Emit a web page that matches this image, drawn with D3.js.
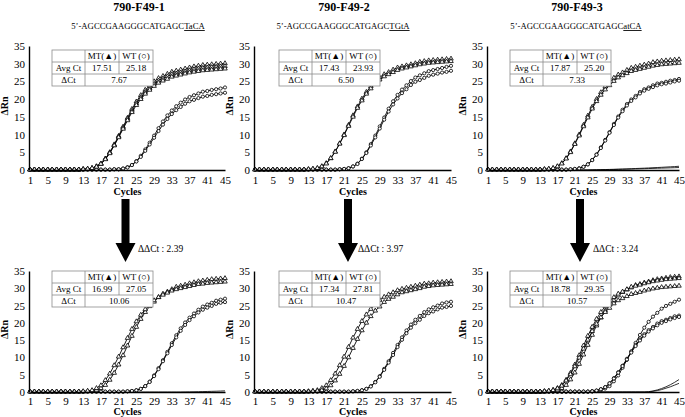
<!DOCTYPE html>
<html>
<head>
<meta charset="utf-8">
<script src="https://cdn.jsdelivr.net/npm/d3@7"></script>
<style>
  body { margin: 0; background: #fff; }
  svg { display: block; font-family: 'Liberation Serif', 'Times New Roman', serif; }
</style>
</head>
<body>
<div id="chart"></div>
<script>
// Cycle numbers and axis ticks
var cycles = d3.range(1, 46)
var xTicks = [1, 5, 9, 13, 17, 21, 25, 29, 33, 37, 41, 45]
var yTicks = [0, 5, 10, 15, 20, 25, 30, 35]

// Panel labels
var panelNames = ['790-F49-1', '790-F49-2', '790-F49-3']
var seqPrefix = '5\u2019-AGCCGAAGGGCATGAGC'
var seqTails = ['TaCA', 'TGtA', 'atCA']

// Table values, top row of panels then bottom row
var tableHeader = ['', 'MT(\u25B2)', 'WT (\u25CB)']
var avgCtMt = ['17.51', '17.43', '17.87', '16.99', '17.34', '18.78']
var avgCtWt = ['25.18', '23.93', '25.20', '27.05', '27.81', '29.35']
var deltaCt = ['7.67', '6.50', '7.33', '10.06', '10.47', '10.57']
var deltaDeltaCt = ['2.39', '3.97', '3.24']

// Amplification curves (delta Rn per cycle 1..45)
var p1MtA = [0.1, 0.1, 0.1, 0.1, 0.1, 0.1, 0.1, 0.1, 0.1, 0.1,
  0.1, 0.1, 0.2, 0.3, 0.5, 1.0, 1.8, 3.2, 5.0, 7.2,
  9.6, 12.2, 14.7, 17.2, 19.3, 21.1, 22.6, 23.8, 25.0, 25.9,
  26.5, 27.1, 27.7, 28.0, 28.3, 28.6, 28.9, 29.2, 29.4, 29.6,
  29.7, 29.8, 29.9, 30.0, 30.1]
var p1MtB = [0.1, 0.1, 0.1, 0.1, 0.1, 0.1, 0.1, 0.1, 0.1, 0.1,
  0.1, 0.1, 0.2, 0.3, 0.5, 1.0, 1.7, 3.1, 4.9, 7.0,
  9.4, 11.9, 14.4, 16.7, 18.8, 20.5, 22.0, 23.1, 24.3, 25.2,
  25.8, 26.4, 27.0, 27.2, 27.5, 27.8, 28.1, 28.4, 28.6, 28.8,
  28.9, 29.0, 29.1, 29.2, 29.3]
var p1MtC = [0.1, 0.1, 0.1, 0.1, 0.1, 0.1, 0.1, 0.1, 0.1, 0.1,
  0.1, 0.1, 0.2, 0.3, 0.5, 0.9, 1.7, 3.0, 4.7, 6.9,
  9.2, 11.6, 14.0, 16.3, 18.3, 20.0, 21.5, 22.6, 23.7, 24.6,
  25.2, 25.7, 26.3, 26.6, 26.9, 27.2, 27.5, 27.7, 27.9, 28.1,
  28.2, 28.3, 28.4, 28.5, 28.6]
var p1WtA = [0.1, 0.1, 0.1, 0.1, 0.1, 0.1, 0.1, 0.1, 0.1, 0.1,
  0.1, 0.1, 0.1, 0.1, 0.1, 0.1, 0.1, 0.1, 0.1, 0.2,
  0.2, 0.4, 0.8, 1.4, 2.5, 4.0, 5.8, 7.7, 9.7, 11.8,
  13.7, 15.4, 16.8, 18.0, 19.0, 19.9, 20.6, 21.1, 21.6, 22.1,
  22.3, 22.6, 22.8, 23.0, 23.3]
var p1WtB = [0.1, 0.1, 0.1, 0.1, 0.1, 0.1, 0.1, 0.1, 0.1, 0.1,
  0.1, 0.1, 0.1, 0.1, 0.1, 0.1, 0.1, 0.1, 0.1, 0.2,
  0.2, 0.4, 0.7, 1.4, 2.4, 3.7, 5.4, 7.2, 9.1, 11.0,
  12.8, 14.4, 15.8, 16.9, 17.8, 18.7, 19.4, 19.8, 20.3, 20.7,
  20.9, 21.2, 21.4, 21.6, 21.8]

var p2MtA = [0.1, 0.1, 0.1, 0.1, 0.1, 0.1, 0.1, 0.1, 0.1, 0.1,
  0.1, 0.1, 0.2, 0.3, 0.5, 1.0, 1.9, 3.3, 5.2, 7.5,
  10.0, 12.7, 15.4, 17.9, 20.1, 22.0, 23.6, 24.8, 26.1, 27.0,
  27.6, 28.3, 28.9, 29.2, 29.5, 29.8, 30.1, 30.5, 30.7, 30.9,
  31.0, 31.1, 31.2, 31.3, 31.4]
var p2MtB = [0.1, 0.1, 0.1, 0.1, 0.1, 0.1, 0.1, 0.1, 0.1, 0.1,
  0.1, 0.1, 0.2, 0.3, 0.5, 1.0, 1.8, 3.3, 5.1, 7.4,
  9.8, 12.4, 15.0, 17.5, 19.6, 21.5, 23.0, 24.3, 25.5, 26.4,
  27.0, 27.6, 28.2, 28.6, 28.9, 29.2, 29.5, 29.8, 30.0, 30.2,
  30.3, 30.4, 30.5, 30.6, 30.7]
var p2WtA = [0.1, 0.1, 0.1, 0.1, 0.1, 0.1, 0.1, 0.1, 0.1, 0.1,
  0.1, 0.1, 0.1, 0.1, 0.1, 0.1, 0.1, 0.1, 0.1, 0.2,
  0.3, 0.5, 1.0, 1.8, 3.2, 5.0, 7.3, 9.7, 12.3, 14.8,
  17.3, 19.4, 21.2, 22.7, 23.9, 25.1, 26.1, 26.7, 27.3, 27.9,
  28.2, 28.5, 28.8, 29.1, 29.4]
var p2WtB = [0.1, 0.1, 0.1, 0.1, 0.1, 0.1, 0.1, 0.1, 0.1, 0.1,
  0.1, 0.1, 0.1, 0.1, 0.1, 0.1, 0.1, 0.1, 0.1, 0.2,
  0.3, 0.5, 1.0, 1.7, 3.1, 4.8, 6.9, 9.2, 11.7, 14.2,
  16.5, 18.5, 20.2, 21.7, 22.8, 24.0, 24.9, 25.4, 26.0, 26.6,
  26.9, 27.2, 27.5, 27.7, 28.0]

var p3MtA = [0.1, 0.1, 0.1, 0.1, 0.1, 0.1, 0.1, 0.1, 0.1, 0.1,
  0.1, 0.1, 0.1, 0.2, 0.3, 0.5, 1.0, 1.9, 3.3, 5.2,
  7.5, 10.0, 12.7, 15.3, 17.8, 20.0, 21.9, 23.5, 24.7, 26.0,
  26.9, 27.5, 28.2, 28.8, 29.1, 29.4, 29.7, 30.0, 30.4, 30.6,
  30.8, 30.9, 31.0, 31.1, 31.2]
var p3MtB = [0.1, 0.1, 0.1, 0.1, 0.1, 0.1, 0.1, 0.1, 0.1, 0.1,
  0.1, 0.1, 0.1, 0.2, 0.3, 0.5, 1.0, 1.8, 3.2, 5.0,
  7.3, 9.7, 12.3, 14.8, 17.3, 19.4, 21.2, 22.7, 23.9, 25.1,
  26.1, 26.7, 27.3, 27.9, 28.2, 28.5, 28.8, 29.1, 29.4, 29.6,
  29.8, 29.9, 30.0, 30.1, 30.2]
var p3WtA = [0.1, 0.1, 0.1, 0.1, 0.1, 0.1, 0.1, 0.1, 0.1, 0.1,
  0.1, 0.1, 0.1, 0.1, 0.1, 0.1, 0.1, 0.1, 0.1, 0.2,
  0.3, 0.5, 0.9, 1.6, 2.8, 4.4, 6.4, 8.5, 10.7, 13.0,
  15.1, 17.0, 18.6, 19.9, 20.9, 22.0, 22.8, 23.3, 23.9, 24.4,
  24.6, 24.9, 25.2, 25.4, 25.7]
var p3WtB = [0.1, 0.1, 0.1, 0.1, 0.1, 0.1, 0.1, 0.1, 0.1, 0.1,
  0.1, 0.1, 0.1, 0.1, 0.1, 0.1, 0.1, 0.1, 0.1, 0.2,
  0.3, 0.4, 0.9, 1.6, 2.8, 4.3, 6.2, 8.3, 10.5, 12.7,
  14.8, 16.6, 18.2, 19.5, 20.5, 21.6, 22.4, 22.9, 23.4, 23.9,
  24.2, 24.4, 24.7, 25.0, 25.2]
var p3NtcA = [0, 0, 0, 0, 0, 0, 0, 0, 0, 0,
  0, 0, 0, 0, 0, 0, 0, 0, 0, 0,
  0, 0, 0, 0, 0.05, 0.07, 0.1, 0.13, 0.16, 0.2,
  0.24, 0.28, 0.32, 0.37, 0.42, 0.47, 0.52, 0.58, 0.64, 0.7,
  0.76, 0.83, 0.9, 0.97, 1.05]
var p3NtcB = [0, 0, 0, 0, 0, 0, 0, 0, 0, 0,
  0, 0, 0, 0, 0, 0, 0, 0, 0, 0,
  0, 0, 0, 0, 0.03, 0.05, 0.07, 0.09, 0.11, 0.14,
  0.17, 0.2, 0.23, 0.26, 0.3, 0.33, 0.37, 0.41, 0.45, 0.49,
  0.53, 0.57, 0.61, 0.65, 0.7]

var p4MtA = [0.1, 0.1, 0.1, 0.1, 0.1, 0.1, 0.1, 0.1, 0.1, 0.1,
  0.1, 0.1, 0.1, 0.2, 0.3, 0.6, 1.1, 2.0, 3.5, 5.5,
  7.9, 10.6, 13.4, 16.2, 18.8, 21.1, 23.1, 24.8, 26.1, 27.4,
  28.4, 29.0, 29.7, 30.4, 30.7, 31.0, 31.4, 31.7, 32.0, 32.2,
  32.4, 32.6, 32.7, 32.8, 32.9]
var p4MtB = [0.1, 0.1, 0.1, 0.1, 0.1, 0.1, 0.1, 0.1, 0.1, 0.1,
  0.1, 0.1, 0.2, 0.3, 0.5, 1.1, 1.9, 3.4, 5.3, 7.7,
  10.2, 12.9, 15.6, 18.2, 20.4, 22.3, 23.9, 25.2, 26.5, 27.4,
  28.1, 28.7, 29.3, 29.7, 30.0, 30.3, 30.6, 30.9, 31.2, 31.3,
  31.5, 31.6, 31.7, 31.8, 31.9]
var p4WtA = [0.1, 0.1, 0.1, 0.1, 0.1, 0.1, 0.1, 0.1, 0.1, 0.1,
  0.1, 0.1, 0.1, 0.1, 0.1, 0.1, 0.1, 0.1, 0.1, 0.1,
  0.1, 0.1, 0.2, 0.3, 0.5, 0.9, 1.7, 3.0, 4.8, 6.9,
  9.2, 11.6, 14.1, 16.4, 18.4, 20.1, 21.5, 22.7, 23.8, 24.7,
  25.3, 25.8, 26.4, 26.7, 27.0]
var p4WtB = [0.1, 0.1, 0.1, 0.1, 0.1, 0.1, 0.1, 0.1, 0.1, 0.1,
  0.1, 0.1, 0.1, 0.1, 0.1, 0.1, 0.1, 0.1, 0.1, 0.1,
  0.1, 0.1, 0.2, 0.3, 0.5, 0.9, 1.7, 2.9, 4.6, 6.6,
  8.9, 11.2, 13.6, 15.8, 17.7, 19.4, 20.8, 21.9, 23.0, 23.8,
  24.4, 24.9, 25.5, 25.8, 26.0]
var p4Ntc = [0, 0, 0, 0, 0, 0, 0, 0, 0, 0,
  0, 0, 0, 0, 0, 0, 0, 0, 0, 0,
  0, 0, 0, 0, 0, 0, 0, 0, 0, 0,
  0, 0, 0, 0, 0, 0.02, 0.04, 0.06, 0.09, 0.12,
  0.15, 0.19, 0.23, 0.28, 0.33]

var p5MtA = [0.1, 0.1, 0.1, 0.1, 0.1, 0.1, 0.1, 0.1, 0.1, 0.1,
  0.1, 0.1, 0.2, 0.3, 0.5, 1.1, 1.9, 3.4, 5.3, 7.7,
  10.2, 13.0, 15.7, 18.2, 20.5, 22.4, 24.0, 25.3, 26.6, 27.5,
  28.2, 28.8, 29.4, 29.8, 30.1, 30.4, 30.7, 31.0, 31.3, 31.4,
  31.6, 31.7, 31.8, 31.9, 32.0]
var p5MtB = [0.1, 0.1, 0.1, 0.1, 0.1, 0.1, 0.1, 0.1, 0.1, 0.1,
  0.1, 0.1, 0.1, 0.2, 0.3, 0.5, 1.0, 1.9, 3.3, 5.2,
  7.5, 10.0, 12.7, 15.3, 17.8, 20.0, 21.9, 23.5, 24.7, 26.0,
  26.9, 27.5, 28.2, 28.8, 29.1, 29.4, 29.7, 30.0, 30.4, 30.6,
  30.8, 30.9, 31.0, 31.1, 31.2]
var p5WtA = [0.1, 0.1, 0.1, 0.1, 0.1, 0.1, 0.1, 0.1, 0.1, 0.1,
  0.1, 0.1, 0.1, 0.1, 0.1, 0.1, 0.1, 0.1, 0.1, 0.1,
  0.1, 0.1, 0.2, 0.3, 0.5, 0.9, 1.7, 2.9, 4.6, 6.7,
  8.9, 11.3, 13.6, 15.8, 17.8, 19.5, 20.9, 22.0, 23.1, 23.9,
  24.5, 25.0, 25.6, 25.9, 26.1]
var p5WtB = [0.1, 0.1, 0.1, 0.1, 0.1, 0.1, 0.1, 0.1, 0.1, 0.1,
  0.1, 0.1, 0.1, 0.1, 0.1, 0.1, 0.1, 0.1, 0.1, 0.1,
  0.1, 0.1, 0.2, 0.3, 0.5, 0.9, 1.6, 2.8, 4.4, 6.4,
  8.5, 10.7, 13.0, 15.1, 17.0, 18.6, 19.9, 20.9, 22.0, 22.8,
  23.3, 23.9, 24.4, 24.6, 24.9]

var p6MtA = [0.1, 0.1, 0.1, 0.1, 0.1, 0.1, 0.1, 0.1, 0.1, 0.1,
  0.1, 0.1, 0.1, 0.1, 0.2, 0.3, 0.6, 1.1, 2.0, 3.6,
  5.6, 8.1, 10.8, 13.6, 16.5, 19.2, 21.5, 23.5, 25.2, 26.5,
  27.9, 28.9, 29.6, 30.2, 30.9, 31.2, 31.6, 31.9, 32.3, 32.6,
  32.8, 33.0, 33.2, 33.3, 33.4]
var p6MtB = [0.1, 0.1, 0.1, 0.1, 0.1, 0.1, 0.1, 0.1, 0.1, 0.1,
  0.1, 0.1, 0.1, 0.2, 0.3, 0.6, 1.1, 2.0, 3.5, 5.5,
  7.9, 10.6, 13.4, 16.2, 18.8, 21.1, 23.1, 24.8, 26.1, 27.4,
  28.4, 29.0, 29.7, 30.4, 30.7, 31.0, 31.4, 31.7, 32.0, 32.2,
  32.4, 32.6, 32.7, 32.8, 32.9]
var p6MtC = [0.1, 0.1, 0.1, 0.1, 0.1, 0.1, 0.1, 0.1, 0.1, 0.1,
  0.1, 0.1, 0.1, 0.2, 0.3, 0.5, 1.0, 1.8, 3.3, 5.1,
  7.4, 9.9, 12.5, 15.1, 17.6, 19.7, 21.6, 23.1, 24.3, 25.6,
  26.5, 27.1, 27.7, 28.3, 28.6, 28.9, 29.3, 29.6, 29.9, 30.1,
  30.3, 30.4, 30.5, 30.6, 30.7]
var p6WtA = [0.1, 0.1, 0.1, 0.1, 0.1, 0.1, 0.1, 0.1, 0.1, 0.1,
  0.1, 0.1, 0.1, 0.1, 0.1, 0.1, 0.1, 0.1, 0.1, 0.1,
  0.1, 0.1, 0.1, 0.1, 0.2, 0.3, 0.5, 1.0, 1.7, 3.1,
  4.8, 7.0, 9.3, 11.7, 14.2, 16.5, 18.6, 20.3, 21.8, 22.9,
  24.1, 24.9, 25.5, 26.1, 26.7]
var p6WtB = [0.1, 0.1, 0.1, 0.1, 0.1, 0.1, 0.1, 0.1, 0.1, 0.1,
  0.1, 0.1, 0.1, 0.1, 0.1, 0.1, 0.1, 0.1, 0.1, 0.1,
  0.1, 0.1, 0.1, 0.1, 0.2, 0.4, 0.8, 1.4, 2.5, 4.0,
  5.7, 7.6, 9.6, 11.7, 13.6, 15.2, 16.7, 17.9, 18.8, 19.8,
  20.5, 20.9, 21.4, 21.9, 22.1]
var p6WtC = [0.1, 0.1, 0.1, 0.1, 0.1, 0.1, 0.1, 0.1, 0.1, 0.1,
  0.1, 0.1, 0.1, 0.1, 0.1, 0.1, 0.1, 0.1, 0.1, 0.1,
  0.1, 0.1, 0.1, 0.1, 0.2, 0.4, 0.8, 1.4, 2.5, 3.9,
  5.6, 7.5, 9.4, 11.4, 13.3, 14.9, 16.3, 17.5, 18.4, 19.3,
  20.0, 20.5, 21.0, 21.4, 21.7]
var p6NtcA = [0, 0, 0, 0, 0, 0, 0, 0, 0, 0,
  0, 0, 0, 0, 0, 0, 0, 0, 0, 0,
  0, 0, 0, 0, 0, 0, 0, 0, 0, 0,
  0, 0, 0, 0, 0, 0, 0, 0.1, 0.3, 0.6,
  1.0, 1.5, 2.1, 2.8, 3.6]
var p6NtcB = [0, 0, 0, 0, 0, 0, 0, 0, 0, 0,
  0, 0, 0, 0, 0, 0, 0, 0, 0, 0,
  0, 0, 0, 0, 0, 0, 0, 0, 0, 0,
  0, 0, 0, 0, 0, 0, 0, 0, 0.2, 0.4,
  0.7, 1.1, 1.5, 2.0, 2.5]

// Series grouped per panel (reading order)
var mtSeries = [[p1MtA, p1MtB, p1MtC], [p2MtA, p2MtB], [p3MtA, p3MtB],
  [p4MtA, p4MtB], [p5MtA, p5MtB], [p6MtA, p6MtB, p6MtC]]
var wtSeries = [[p1WtA, p1WtB], [p2WtA, p2WtB], [p3WtA, p3WtB],
  [p4WtA, p4WtB], [p5WtA, p5WtB], [p6WtA, p6WtB, p6WtC]]
var ntcSeries = [[], [], [p3NtcA, p3NtcB], [p4Ntc], [], [p6NtcA, p6NtcB]]

// Layout (pixels)
var width = 685
var height = 417
var colX = [[30, 225], [255, 451], [488, 679]]
var rowY = [[170, 46], [392, 271]]
var cyclesOffset = [25, 22.5]
var tickPad = [6, 5]
var tableX = [52, 279, 510]
var tableTop = [50, 271]
var tableCols = [33, 34, 34]
var tableRow = 12
var titleX = [139, 344, 577]
var arrowX = [125.5, 348, 580]
var ddctX = [138, 358, 593]

var svg = d3.select('#chart').append('svg')
  .attr('width', width)
  .attr('height', height)

svg.append('rect')
  .attr('width', width)
  .attr('height', height)
  .attr('fill', '#fff')

/**
 * Draws one amplification plot with its axes and Ct table.
 */
function drawPanel (i) {
  var col = i % 3
  var row = Math.floor(i / 3)

  var x = d3.scaleLinear().domain([1, 45]).range(colX[col])
  var y = d3.scaleLinear().domain([0, 35]).range(rowY[row])

  var g = svg.append('g')

  var line = d3.line()
    .x(function (d, k) { return x(cycles[k]) })
    .y(function (d) { return y(d) })

  // NTC lines have no markers
  ntcSeries[i].forEach(function (s) {
    g.append('path')
      .datum(s)
      .attr('d', line)
      .attr('fill', 'none')
      .attr('stroke', '#000')
      .attr('stroke-width', 0.8)
  })

  var tri = d3.symbol().type(d3.symbolTriangle).size(9)

  wtSeries[i].forEach(function (s) {
    g.append('path')
      .datum(s)
      .attr('d', line)
      .attr('fill', 'none')
      .attr('stroke', '#000')
      .attr('stroke-width', 0.9)
    g.selectAll(null)
      .data(s)
      .enter().append('circle')
      .attr('cx', function (d, k) { return x(cycles[k]) })
      .attr('cy', function (d) { return y(d) })
      .attr('r', 1.6)
      .attr('fill', '#fff')
      .attr('stroke', '#000')
      .attr('stroke-width', 0.8)
  })

  mtSeries[i].forEach(function (s) {
    g.append('path')
      .datum(s)
      .attr('d', line)
      .attr('fill', 'none')
      .attr('stroke', '#000')
      .attr('stroke-width', 0.9)
    g.selectAll(null)
      .data(s)
      .enter().append('path')
      .attr('d', tri)
      .attr('transform', function (d, k) { return 'translate(' + x(cycles[k]) + ',' + y(d) + ')' })
      .attr('fill', '#fff')
      .attr('stroke', '#000')
      .attr('stroke-width', 0.8)
  })

  // Axes
  var axisX = colX[col][0] - 1
  var yAxis = g.append('g')
    .attr('transform', 'translate(' + axisX + ',0)')
    .call(d3.axisLeft(y).tickValues(yTicks).tickSize(0).tickPadding(4))
  var xAxis = g.append('g')
    .attr('transform', 'translate(0,' + y(0) + ')')
    .call(d3.axisBottom(x).tickValues(xTicks).tickSize(0).tickPadding(tickPad[row]))

  ;[yAxis, xAxis].forEach(function (a) {
    a.select('.domain').attr('stroke', '#000').attr('stroke-width', 1.4)
    a.selectAll('text')
      .attr('font-family', "'Liberation Serif', serif")
      .attr('font-size', 11)
      .attr('fill', '#000')
  })

  g.append('text')
    .attr('x', (colX[col][0] + colX[col][1]) / 2)
    .attr('y', y(0) + cyclesOffset[row])
    .attr('text-anchor', 'middle')
    .attr('font-size', 10)
    .attr('font-weight', 'bold')
    .text('Cycles')

  g.append('text')
    .attr('transform', 'translate(' + (axisX - 21) + ',' + ((rowY[row][0] + rowY[row][1]) / 2 - 2) + ') rotate(-90)')
    .attr('text-anchor', 'middle')
    .attr('font-size', 10)
    .attr('font-weight', 'bold')
    .text('\u0394Rn')

  // Ct table
  var t = g.append('g')
    .attr('transform', 'translate(' + tableX[col] + ',' + tableTop[row] + ')')
  var cx = [0, tableCols[0], tableCols[0] + tableCols[1]]
  var tw = tableCols[0] + tableCols[1] + tableCols[2]
  var rows = [tableHeader, ['Avg Ct', avgCtMt[i], avgCtWt[i]]]

  t.append('rect')
    .attr('width', tw)
    .attr('height', tableRow * 3)
    .attr('fill', '#fff')
    .attr('stroke', '#8c8c8c')
    .attr('stroke-width', 0.8)
  ;[1, 2].forEach(function (r) {
    t.append('line')
      .attr('x1', 0).attr('x2', tw)
      .attr('y1', r * tableRow).attr('y2', r * tableRow)
      .attr('stroke', '#8c8c8c').attr('stroke-width', 0.8)
  })
  t.append('line')
    .attr('x1', cx[1]).attr('x2', cx[1])
    .attr('y1', 0).attr('y2', tableRow * 3)
    .attr('stroke', '#8c8c8c').attr('stroke-width', 0.8)
  t.append('line')
    .attr('x1', cx[2]).attr('x2', cx[2])
    .attr('y1', 0).attr('y2', tableRow * 2)
    .attr('stroke', '#8c8c8c').attr('stroke-width', 0.8)

  rows.forEach(function (r, ri) {
    r.forEach(function (v, ci) {
      t.append('text')
        .attr('x', cx[ci] + tableCols[ci] / 2)
        .attr('y', ri * tableRow + tableRow / 2 + 3.2)
        .attr('text-anchor', 'middle')
        .attr('font-size', 9)
        .text(v)
    })
  })
  t.append('text')
    .attr('x', tableCols[0] / 2)
    .attr('y', 2 * tableRow + tableRow / 2 + 3.2)
    .attr('text-anchor', 'middle')
    .attr('font-size', 9)
    .text('\u0394Ct')
  t.append('text')
    .attr('x', cx[1] + (tableCols[1] + tableCols[2]) / 2)
    .attr('y', 2 * tableRow + tableRow / 2 + 3.2)
    .attr('text-anchor', 'middle')
    .attr('font-size', 9)
    .text(deltaCt[i])
}

d3.range(6).forEach(drawPanel)

// Titles and primer sequences
panelNames.forEach(function (name, i) {
  svg.append('text')
    .attr('x', titleX[i])
    .attr('y', 11)
    .attr('text-anchor', 'middle')
    .attr('font-size', 12)
    .attr('font-weight', 'bold')
    .text(name)

  var seq = svg.append('text')
    .attr('x', titleX[i] - 1)
    .attr('y', 29)
    .attr('text-anchor', 'middle')
    .attr('font-size', 8.7)
  seq.append('tspan').text(seqPrefix)
  seq.append('tspan')
    .style('text-decoration', 'underline')
    .text(seqTails[i])
})

// Arrows with delta delta Ct
deltaDeltaCt.forEach(function (v, i) {
  var c = arrowX[i]
  var pts = [[c - 4, 199], [c + 4, 199], [c + 4, 243], [c + 10, 243],
    [c, 262], [c - 10, 243], [c - 4, 243]]
  svg.append('path')
    .attr('d', d3.line()(pts) + 'Z')
    .attr('fill', '#000')

  svg.append('text')
    .attr('x', ddctX[i])
    .attr('y', 252)
    .attr('font-size', 9.5)
    .text('\u0394\u0394Ct : ' + v)
})
</script>
</body>
</html>
